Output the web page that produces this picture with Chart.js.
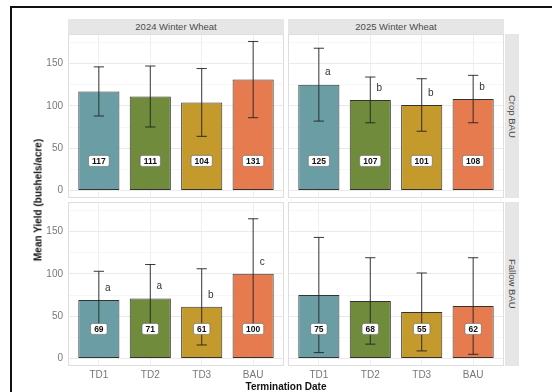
<!DOCTYPE html>
<html>
<head>
<meta charset="utf-8">
<script src="https://cdn.jsdelivr.net/npm/chart.js@4.4.0/dist/chart.umd.min.js"></script>
<style>
  body { margin: 0; width: 552px; height: 392px; background: #fff; position: relative; overflow: hidden;
         font-family: "Liberation Sans", Arial, sans-serif; }
  .frame { position: absolute; left: 10px; top: 6px; width: 700px; height: 500px;
           border-left: 2px solid #111; border-top: 2px solid #111; }
  .box { position: absolute; }
  .strip { position: absolute; background: #e6e6e6; color: #4a4a4a; font-size: 9.5px;
           display: flex; align-items: center; justify-content: center; white-space: nowrap; }
  .strip.side { writing-mode: vertical-rl; }
  .title { position: absolute; font-weight: bold; font-size: 10px; color: #111; white-space: nowrap;
           transform: translate(-50%, -50%); }
  .title.y { transform: translate(-50%, -50%) rotate(-90deg); }
</style>
</head>
<body>
<div class="frame"></div>
<div id="plot"></div>
<div class="title" style="left:286px; top:386px;">Termination Date</div>
<div class="title y" style="left:38px; top:200px;">Mean Yield (bushels/acre)</div>
<script>
// data
const treatments = ["TD1", "TD2", "TD3", "BAU"];
const years = ["2024 Winter Wheat", "2025 Winter Wheat"];
const systems = ["Crop BAU", "Fallow BAU"];

const crop2024Mean = [117, 111, 104, 131];
const crop2024Err = [29, 36, 40, 45];
const crop2025Mean = [125, 107, 101, 108];
const crop2025Err = [43, 27, 31, 28];
const crop2025Letters = ["a", "b", "b", "b"];
const fallow2024Mean = [69, 71, 61, 100];
const fallow2024Err = [34, 40, 45, 65];
const fallow2024Letters = ["a", "a", "b", "c"];
const fallow2025Mean = [75, 68, 55, 62];
const fallow2025Err = [68, 51, 46, 57];

const yTicks = [0, 25, 50, 75, 100, 125, 150, 175];
const barColors = ["#6A9EA4", "#6F8B3B", "#C49A2C", "#E57B4E"];
const LABEL_Y = 35;

// panels in facet order (row = system, col = year)
const panels = [
  { row: 0, col: 0, mean: crop2024Mean, err: crop2024Err, letters: null },
  { row: 0, col: 1, mean: crop2025Mean, err: crop2025Err, letters: crop2025Letters },
  { row: 1, col: 0, mean: fallow2024Mean, err: fallow2024Err, letters: fallow2024Letters },
  { row: 1, col: 1, mean: fallow2025Mean, err: fallow2025Err, letters: null },
];

// shared y range, ggplot style 5% expansion
let yTop = 0;
panels.forEach(p => p.mean.forEach((m, i) => { yTop = Math.max(yTop, m + p.err[i]); }));
const yPad = yTop * 0.05;

const colX = [68, 288];
const rowY = [34, 202];
const panelW = 216, panelH = 164;
const yAxisW = 38, xAxisH = 22;
const plot = document.getElementById("plot");

function addDiv(cls, style, text) {
  const d = document.createElement("div");
  d.className = cls;
  Object.assign(d.style, style);
  if (text) d.textContent = text;
  plot.appendChild(d);
  return d;
}

// strips
years.forEach((y, c) => addDiv("strip", { left: colX[c] + "px", top: "19px", width: panelW + "px", height: "15px" }, y));
systems.forEach((s, r) => addDiv("strip side", { left: "505px", top: rowY[r] + "px", width: "14px", height: panelH + "px" }, s));

function marksPlugin(p) {
  return {
    id: "marks",
    beforeDatasetsDraw(chart) {
      const { ctx, chartArea: a } = chart;
      ctx.save();
      ctx.strokeStyle = "#dedede";
      ctx.lineWidth = 1;
      ctx.strokeRect(a.left + 0.5, a.top + 0.5, a.width - 1, a.height - 1);
      ctx.restore();
    },
    afterDatasetsDraw(chart) {
      const ctx = chart.ctx;
      const xs = chart.scales.x, ys = chart.scales.y;
      const cap = xs.getPixelForValue(1.1) - xs.getPixelForValue(1);
      ctx.save();
      // error bars
      ctx.strokeStyle = "#222";
      ctx.lineWidth = 0.9;
      p.mean.forEach((m, i) => {
        const x = xs.getPixelForValue(i + 1);
        const y1 = ys.getPixelForValue(m + p.err[i]);
        const y2 = ys.getPixelForValue(m - p.err[i]);
        ctx.beginPath();
        ctx.moveTo(x, y1); ctx.lineTo(x, y2);
        ctx.moveTo(x - cap, y1); ctx.lineTo(x + cap, y1);
        ctx.moveTo(x - cap, y2); ctx.lineTo(x + cap, y2);
        ctx.stroke();
      });
      // significance letters
      if (p.letters) {
        ctx.fillStyle = "#333";
        ctx.font = "10px 'Liberation Sans', Arial, sans-serif";
        ctx.textAlign = "center";
        ctx.textBaseline = "middle";
        p.letters.forEach((l, i) => {
          ctx.fillText(l, xs.getPixelForValue(i + 1) + 9, ys.getPixelForValue(p.mean[i]) - 12);
        });
      }
      // value labels
      ctx.font = "bold 8.5px 'Liberation Sans', Arial, sans-serif";
      ctx.textAlign = "center";
      ctx.textBaseline = "middle";
      p.mean.forEach((m, i) => {
        const x = xs.getPixelForValue(i + 1);
        const y = ys.getPixelForValue(LABEL_Y);
        const txt = String(m);
        const w = ctx.measureText(txt).width + 7, h = 11;
        ctx.beginPath();
        ctx.roundRect(x - w / 2, y - h / 2, w, h, 2);
        ctx.fillStyle = "#fff";
        ctx.fill();
        ctx.strokeStyle = "#666";
        ctx.lineWidth = 0.6;
        ctx.stroke();
        ctx.fillStyle = "#111";
        ctx.fillText(txt, x, y + 0.5);
      });
      ctx.restore();
    },
  };
}

panels.forEach(p => {
  const left = p.col === 0 ? colX[0] - yAxisW : colX[1];
  const width = p.col === 0 ? panelW + yAxisW : panelW;
  const height = p.row === 1 ? panelH + xAxisH : panelH;
  const box = addDiv("box", { left: left + "px", top: rowY[p.row] + "px", width: width + "px", height: height + "px" });
  const canvas = document.createElement("canvas");
  box.appendChild(canvas);

  new Chart(canvas, {
    type: "bar",
    data: {
      datasets: [{
        data: p.mean.map((m, i) => ({ x: i + 1, y: m })),
        backgroundColor: barColors,
        borderColor: "#333",
        borderWidth: 1,
        borderSkipped: false,
        barPercentage: 0.8,
        categoryPercentage: 1,
      }],
    },
    options: {
      responsive: true,
      maintainAspectRatio: false,
      animation: false,
      layout: { padding: 0, autoPadding: false },
      plugins: { legend: { display: false }, tooltip: { enabled: false } },
      scales: {
        x: {
          type: "linear",
          min: 0.4,
          max: 4.6,
          offset: false,
          afterBuildTicks: s => { s.ticks = treatments.map((t, i) => ({ value: i + 1 })); },
          afterFit: s => {
            s.height = p.row === 1 ? xAxisH : 0;
            s.paddingLeft = s.paddingRight = 0;
          },
          ticks: {
            display: p.row === 1,
            autoSkip: false,
            maxRotation: 0,
            padding: 3,
            color: "#777",
            font: { family: "'Liberation Sans', Arial, sans-serif", size: 10 },
            callback: (v, i) => treatments[i],
          },
          grid: { color: "#ebebeb", lineWidth: 0.8, drawTicks: false, offset: false },
          border: { display: false },
        },
        y: {
          type: "linear",
          min: -yPad,
          max: yTop + yPad,
          afterBuildTicks: s => { s.ticks = yTicks.map(v => ({ value: v })); },
          afterFit: s => {
            s.width = p.col === 0 ? yAxisW : 0;
            s.paddingTop = s.paddingBottom = 0;
          },
          ticks: {
            display: p.col === 0,
            autoSkip: false,
            padding: 5,
            color: "#777",
            font: { family: "'Liberation Sans', Arial, sans-serif", size: 10 },
            callback: v => (v % 50 === 0 ? v : ""),
          },
          grid: {
            color: c => (c.tick && c.tick.value % 50 === 0 ? "#e8e8e8" : "#f2f2f2"),
            lineWidth: c => (c.tick && c.tick.value % 50 === 0 ? 0.9 : 0.6),
            drawTicks: false,
          },
          border: { display: false },
        },
      },
    },
    plugins: [marksPlugin(p)],
  });
});
</script>
</body>
</html>
